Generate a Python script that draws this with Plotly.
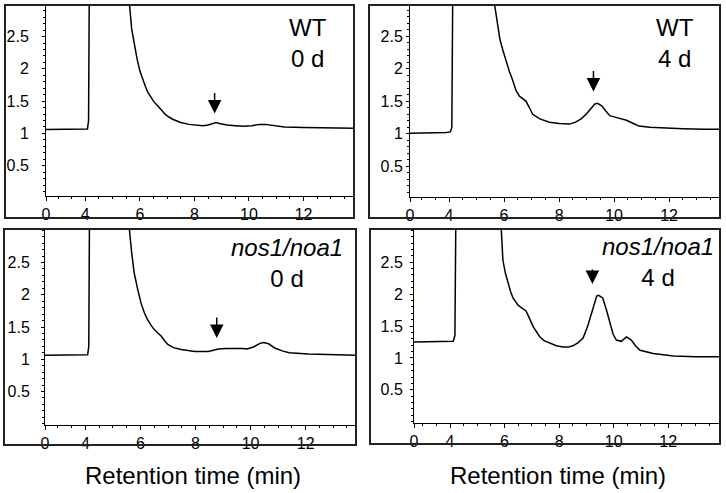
import plotly.graph_objects as go

W, H = 726, 493

# ---------------- data (retention time in min, absorbance) ----------------
wt0_t = [2.5, 3.0, 3.5, 4.0, 4.08, 4.12, 4.15, 5.58, 5.62, 5.7, 5.8, 5.9, 6.0, 6.1, 6.2, 6.3, 6.4,
         6.5, 6.6, 6.7, 6.8, 6.9, 7.0, 7.2, 7.5, 7.8, 8.0, 8.3, 8.5, 8.65, 8.8, 8.95, 9.2, 9.5,
         9.8, 10.1, 10.4, 10.6, 10.9, 11.3, 12.0, 13.0, 14.0]
wt0_a = [1.06, 1.06, 1.06, 1.06, 1.07, 1.2, 3.5, 3.5, 3.0, 2.62, 2.35, 2.15, 1.97, 1.84, 1.73, 1.63, 1.56,
         1.50, 1.45, 1.41, 1.36, 1.31, 1.27, 1.22, 1.17, 1.14, 1.13, 1.12, 1.13, 1.15, 1.17, 1.15, 1.13, 1.12,
         1.11, 1.12, 1.14, 1.14, 1.12, 1.10, 1.09, 1.08, 1.08]

wt4_t = [2.5, 3.0, 3.5, 3.9, 4.05, 4.1, 4.14, 5.6, 5.65, 5.75, 5.85, 5.96, 6.1, 6.2, 6.3, 6.44, 6.56,
         6.7, 6.8, 6.9, 7.04, 7.3, 7.65, 8.0, 8.38, 8.6, 8.8, 9.0, 9.15, 9.3, 9.4, 9.55, 9.7, 9.84,
         10.1, 10.45, 10.7, 10.9, 11.3, 11.75, 12.5, 13.3, 14.0]
wt4_a = [1.01, 1.01, 1.01, 1.02, 1.03, 1.1, 3.5, 3.5, 3.0, 2.7, 2.45, 2.28, 2.08, 1.95, 1.84, 1.66, 1.58,
         1.53, 1.50, 1.42, 1.30, 1.23, 1.18, 1.16, 1.15, 1.18, 1.23, 1.31, 1.39, 1.46, 1.47, 1.43, 1.35, 1.28,
         1.25, 1.21, 1.16, 1.12, 1.10, 1.09, 1.08, 1.07, 1.07]

nos0_t = [2.5, 3.0, 3.5, 4.0, 4.08, 4.12, 4.15, 5.55, 5.6, 5.68, 5.77, 5.9, 6.02, 6.14, 6.26, 6.38, 6.5,
          6.62, 6.75, 6.87, 6.99, 7.2, 7.48, 7.97, 8.2, 8.46, 8.65, 8.83, 9.1, 9.44, 9.7, 9.87, 10.1,
          10.36, 10.48, 10.65, 10.9, 11.15, 11.4, 12.1, 13.0, 14.0]
nos0_a = [1.06, 1.06, 1.06, 1.06, 1.07, 1.2, 3.5, 3.5, 3.0, 2.65, 2.34, 2.08, 1.87, 1.72, 1.61, 1.53, 1.46,
          1.41, 1.36, 1.29, 1.23, 1.18, 1.15, 1.12, 1.115, 1.12, 1.14, 1.16, 1.165, 1.17, 1.165, 1.16, 1.19,
          1.25, 1.26, 1.24, 1.17, 1.13, 1.10, 1.08, 1.07, 1.06]

nos4_t = [2.5, 3.0, 3.5, 4.0, 4.12, 4.18, 4.22, 5.82, 5.88, 5.94, 6.03, 6.12, 6.22, 6.31, 6.4, 6.49, 6.6,
          6.68, 6.78, 6.86, 6.95, 7.05, 7.17, 7.29, 7.45, 7.65, 7.9, 8.14, 8.35, 8.51, 8.7, 8.88, 9.05,
          9.19, 9.3, 9.38, 9.45, 9.6, 9.75, 9.86, 9.98, 10.1, 10.28, 10.47, 10.65, 10.8, 10.97, 11.45,
          12.2, 13.0, 14.0]
nos4_a = [1.25, 1.25, 1.25, 1.25, 1.26, 1.35, 3.5, 3.5, 3.0, 2.53, 2.33, 2.17, 2.04, 1.94, 1.88, 1.83, 1.79,
          1.77, 1.74, 1.67, 1.58, 1.49, 1.41, 1.33, 1.27, 1.23, 1.19, 1.17, 1.17, 1.19, 1.24, 1.31, 1.50,
          1.70, 1.88, 1.97, 1.98, 1.94, 1.73, 1.54, 1.37, 1.28, 1.26, 1.33, 1.28, 1.19, 1.12, 1.07,
          1.03, 1.02, 1.02]

arrow_t = [8.74, 9.25, 8.77, 9.22]      # arrow tip positions (min)
arrow_a = [1.31, 1.65, 1.33, 2.16]      # arrow tip heights
panel_genotype = ["WT", "WT", "<i>nos1/noa1</i>", "<i>nos1/noa1</i>"]
panel_day = ["0 d", "4 d", "0 d", "4 d"]
xtick_vals = [4, 6, 8, 10, 12]
xtick_labels = ["0", "4", "6", "8", "10", "12"]
ytick_vals = [0.5, 1, 1.5, 2, 2.5]
ytick_labels = ["0.5", "1", "1.5", "2", "2.5"]
xlabel = "Retention time (min)"

series_t = [wt0_t, wt4_t, nos0_t, nos4_t]
series_a = [wt0_a, wt4_a, nos0_a, nos4_a]

# ---------------- layout geometry (pixels) ----------------
# plot area: x0, x1, ytop, ybottom
plot_px = [(46, 354, 5, 196), (410, 720, 5, 197), (45, 356, 229, 425), (414, 720, 229, 423)]
frame_px = [(5, 354, 5, 218), (369, 720, 5, 218), (4, 356, 229, 445), (370, 720, 229, 444)]
x_ranges = [(2.56, 13.85), (2.58, 13.85), (2.53, 13.83), (2.68, 13.9)]
y_ranges = [(0.03, 2.99), (0.03, 2.98), (-0.02, 3.02), (-0.02, 3.02)]
label_px = [(308, 43), (675, 43), (287, 263), (658, 262)]
arrow_len = [22, 22, 22, 16]
ylab_standoff = [10, 0, 8, 4]

FONT = "Liberation Sans, Arial, sans-serif"
TICK_SIZE = 16

def px(x):
    return x / W

def py(y):
    return 1 - y / H

fig = go.Figure()
layout = dict(
    width=W, height=H, margin=dict(l=0, r=0, t=0, b=0),
    paper_bgcolor="white", plot_bgcolor="white", showlegend=False,
    font=dict(family=FONT, color="black", size=TICK_SIZE),
)
shapes = []
annotations = []

for i in range(4):
    n = "" if i == 0 else str(i + 1)
    xa, ya = "x" + n, "y" + n
    fig.add_trace(go.Scatter(x=series_t[i], y=series_a[i], mode="lines",
                             line=dict(color="black", width=1.5),
                             xaxis=xa, yaxis=ya, hoverinfo="skip"))
    x0, x1, yt, yb = plot_px[i]
    xr = x_ranges[i]
    layout["xaxis" + n] = dict(
        domain=[px(x0), px(x1)], anchor=ya, range=list(xr),
        tickmode="array", tickvals=[xr[0] + 0.001] + xtick_vals, ticktext=xtick_labels,
        ticks="outside", ticklen=4, tickwidth=1, tickcolor="black",
        minor=dict(tickmode="linear", tick0=0, dtick=0.5, ticks="outside", ticklen=2,
                   tickcolor="black", tickwidth=1),
        showline=True, linecolor="black", linewidth=1, showgrid=False, zeroline=False,
        tickfont=dict(size=TICK_SIZE, family=FONT, color="black"), automargin=False, fixedrange=True,
    )
    layout["yaxis" + n] = dict(
        domain=[py(yb), py(yt)], anchor=xa, range=list(y_ranges[i]),
        tickmode="array", tickvals=ytick_vals, ticktext=ytick_labels,
        ticks="outside", ticklen=3, tickwidth=1, tickcolor="black",
        minor=dict(tickmode="linear", tick0=0, dtick=0.1, ticks="outside", ticklen=2,
                   tickcolor="black", tickwidth=1),
        showline=True, linecolor="black", linewidth=1, showgrid=False, zeroline=False,
        tickfont=dict(size=TICK_SIZE, family=FONT, color="black"), automargin=False, fixedrange=True,
        ticklabelstandoff=ylab_standoff[i],
    )
    fx0, fx1, fy0, fy1 = frame_px[i]
    shapes.append(dict(type="rect", xref="paper", yref="paper",
                       x0=px(fx0), x1=px(fx1), y0=py(fy1), y1=py(fy0),
                       line=dict(color="#222222", width=2)))
    lx, ly = label_px[i]
    annotations.append(dict(xref="paper", yref="paper", x=px(lx), y=py(ly),
                            text=panel_genotype[i] + "<br>" + panel_day[i],
                            showarrow=False, align="center", xanchor="center", yanchor="middle",
                            font=dict(size=24, family=FONT, color="black")))
    annotations.append(dict(xref=xa, yref=ya, x=arrow_t[i], y=arrow_a[i], text="",
                            showarrow=True, arrowhead=2, arrowsize=1.8, arrowwidth=1.5,
                            arrowcolor="black", ax=0, ay=-arrow_len[i]))

for cx in (193, 558):
    annotations.append(dict(xref="paper", yref="paper", x=px(cx), y=py(475), text=xlabel,
                            showarrow=False, xanchor="center", yanchor="middle",
                            font=dict(size=24, family=FONT, color="black")))

layout["shapes"] = shapes
layout["annotations"] = annotations
fig.update_layout(**layout)
fig.write_html("out.html", config={"displayModeBar": False},
               post_script="document.body.style.margin='0';document.body.style.overflow='hidden';")
